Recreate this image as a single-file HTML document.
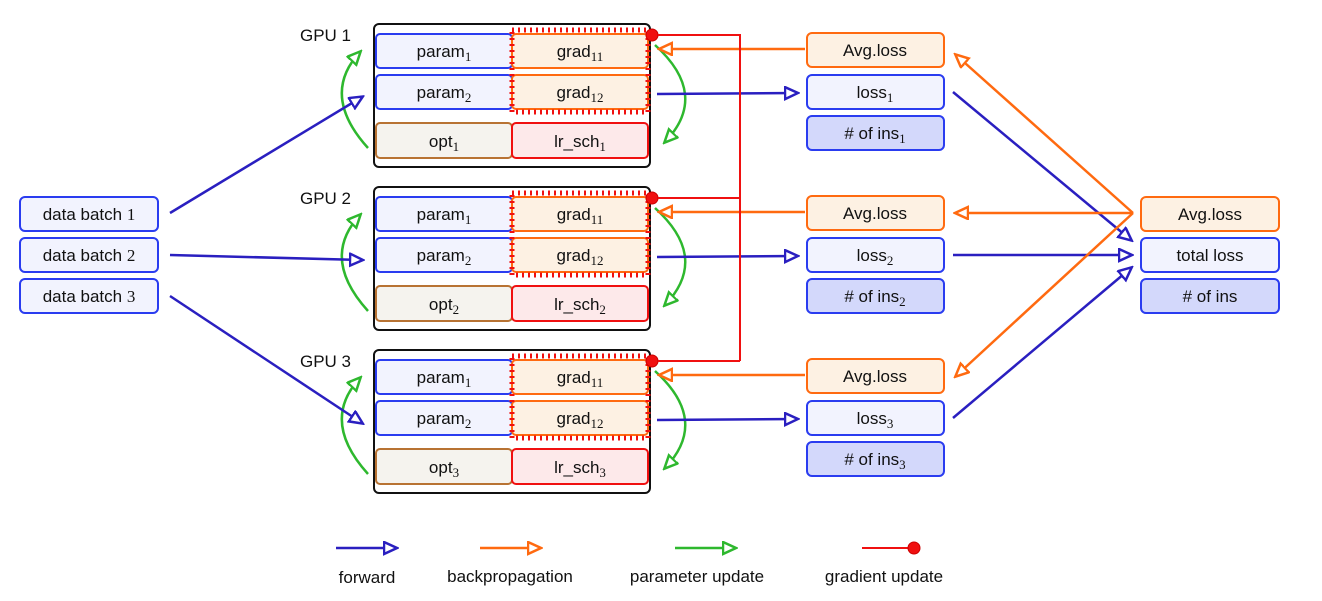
<!DOCTYPE html>
<html><head><meta charset="utf-8"><style>
html,body{margin:0;padding:0;background:#fff;}
svg text{font-family:"Liberation Sans",sans-serif;font-size:17px;fill:#111;}
.s{font-family:"Liberation Serif",serif;font-size:13px;}
</style></head><body>
<svg width="1322" height="596" viewBox="0 0 1322 596" xmlns="http://www.w3.org/2000/svg">
<defs>
<marker id="ab" markerWidth="16" markerHeight="16" refX="13" refY="7" orient="auto" markerUnits="userSpaceOnUse"><path d="M1,1 L14,7 L1,13 Z" fill="#fff" stroke="#2a1fc0" stroke-width="2.5"/></marker>
<marker id="ao" markerWidth="16" markerHeight="16" refX="13" refY="7" orient="auto" markerUnits="userSpaceOnUse"><path d="M1,1 L14,7 L1,13 Z" fill="#fff" stroke="#ff6a10" stroke-width="2.5"/></marker>
<marker id="ag" markerWidth="16" markerHeight="16" refX="13" refY="7" orient="auto" markerUnits="userSpaceOnUse"><path d="M1,1 L14,7 L1,13 Z" fill="#fff" stroke="#2eb82e" stroke-width="2.5"/></marker>
</defs>

<g>
<text x="300" y="41">GPU 1</text>
<rect x="374" y="24" width="276" height="143" rx="5" fill="#fff" stroke="#111" stroke-width="2"/>
<rect x="376" y="34" width="136" height="34" rx="4" fill="#f2f3fe" stroke="#2a3cf0" stroke-width="2"/>
<rect x="512" y="34" width="136" height="34" rx="4" fill="#fdf1e3" stroke="#ff6a10" stroke-width="2"/>
<rect x="376" y="75" width="136" height="34" rx="4" fill="#f2f3fe" stroke="#2a3cf0" stroke-width="2"/>
<rect x="512" y="75" width="136" height="34" rx="4" fill="#fdf1e3" stroke="#ff6a10" stroke-width="2"/>
<rect x="376" y="123" width="136" height="35" rx="4" fill="#f5f3ee" stroke="#b87333" stroke-width="2"/>
<rect x="512" y="123" width="136" height="35" rx="4" fill="#fde9ea" stroke="#f01010" stroke-width="2"/>
<rect x="512" y="30" width="136" height="82" fill="none" stroke="#f01010" stroke-width="5" stroke-dasharray="2 4"/>
<text x="444" y="57" text-anchor="middle">param<tspan class="s" dy="4">1</tspan></text>
<text x="580" y="57" text-anchor="middle">grad<tspan class="s" dy="4">11</tspan></text>
<text x="444" y="98" text-anchor="middle">param<tspan class="s" dy="4">2</tspan></text>
<text x="580" y="98" text-anchor="middle">grad<tspan class="s" dy="4">12</tspan></text>
<text x="444" y="147" text-anchor="middle">opt<tspan class="s" dy="4">1</tspan></text>
<text x="580" y="147" text-anchor="middle">lr_sch<tspan class="s" dy="4">1</tspan></text>
<path d="M368,148 Q320,95 360,52" fill="none" stroke="#2eb82e" stroke-width="2.5" marker-end="url(#ag)"/>
<path d="M655,45 Q710,95 665,142" fill="none" stroke="#2eb82e" stroke-width="2.5" marker-end="url(#ag)"/>
<circle cx="652" cy="35" r="6" fill="#f01010" stroke="#c00" stroke-width="1"/>
<line x1="805" y1="49" x2="660" y2="49" stroke="#ff6a10" stroke-width="2.5" marker-end="url(#ao)"/>
<line x1="657" y1="94" x2="797" y2="93" stroke="#2a1fc0" stroke-width="2.5" marker-end="url(#ab)"/>
<rect x="807" y="33" width="137" height="34" rx="5" fill="#fdf1e3" stroke="#ff6a10" stroke-width="2"/>
<rect x="807" y="75" width="137" height="34" rx="5" fill="#f2f3fe" stroke="#2a3cf0" stroke-width="2"/>
<rect x="807" y="116" width="137" height="34" rx="5" fill="#d3d8fb" stroke="#2a3cf0" stroke-width="2"/>
<text x="875" y="56" text-anchor="middle">Avg.loss</text>
<text x="875" y="98" text-anchor="middle">loss<tspan class="s" dy="4">1</tspan></text>
<text x="875" y="139" text-anchor="middle"># of ins<tspan class="s" dy="4">1</tspan></text>
</g>

<g transform="translate(0,163)">
<text x="300" y="41">GPU 2</text>
<rect x="374" y="24" width="276" height="143" rx="5" fill="#fff" stroke="#111" stroke-width="2"/>
<rect x="376" y="34" width="136" height="34" rx="4" fill="#f2f3fe" stroke="#2a3cf0" stroke-width="2"/>
<rect x="512" y="34" width="136" height="34" rx="4" fill="#fdf1e3" stroke="#ff6a10" stroke-width="2"/>
<rect x="376" y="75" width="136" height="34" rx="4" fill="#f2f3fe" stroke="#2a3cf0" stroke-width="2"/>
<rect x="512" y="75" width="136" height="34" rx="4" fill="#fdf1e3" stroke="#ff6a10" stroke-width="2"/>
<rect x="376" y="123" width="136" height="35" rx="4" fill="#f5f3ee" stroke="#b87333" stroke-width="2"/>
<rect x="512" y="123" width="136" height="35" rx="4" fill="#fde9ea" stroke="#f01010" stroke-width="2"/>
<rect x="512" y="30" width="136" height="82" fill="none" stroke="#f01010" stroke-width="5" stroke-dasharray="2 4"/>
<text x="444" y="57" text-anchor="middle">param<tspan class="s" dy="4">1</tspan></text>
<text x="580" y="57" text-anchor="middle">grad<tspan class="s" dy="4">11</tspan></text>
<text x="444" y="98" text-anchor="middle">param<tspan class="s" dy="4">2</tspan></text>
<text x="580" y="98" text-anchor="middle">grad<tspan class="s" dy="4">12</tspan></text>
<text x="444" y="147" text-anchor="middle">opt<tspan class="s" dy="4">2</tspan></text>
<text x="580" y="147" text-anchor="middle">lr_sch<tspan class="s" dy="4">2</tspan></text>
<path d="M368,148 Q320,95 360,52" fill="none" stroke="#2eb82e" stroke-width="2.5" marker-end="url(#ag)"/>
<path d="M655,45 Q710,95 665,142" fill="none" stroke="#2eb82e" stroke-width="2.5" marker-end="url(#ag)"/>
<circle cx="652" cy="35" r="6" fill="#f01010" stroke="#c00" stroke-width="1"/>
<line x1="805" y1="49" x2="660" y2="49" stroke="#ff6a10" stroke-width="2.5" marker-end="url(#ao)"/>
<line x1="657" y1="94" x2="797" y2="93" stroke="#2a1fc0" stroke-width="2.5" marker-end="url(#ab)"/>
<rect x="807" y="33" width="137" height="34" rx="5" fill="#fdf1e3" stroke="#ff6a10" stroke-width="2"/>
<rect x="807" y="75" width="137" height="34" rx="5" fill="#f2f3fe" stroke="#2a3cf0" stroke-width="2"/>
<rect x="807" y="116" width="137" height="34" rx="5" fill="#d3d8fb" stroke="#2a3cf0" stroke-width="2"/>
<text x="875" y="56" text-anchor="middle">Avg.loss</text>
<text x="875" y="98" text-anchor="middle">loss<tspan class="s" dy="4">2</tspan></text>
<text x="875" y="139" text-anchor="middle"># of ins<tspan class="s" dy="4">2</tspan></text>
</g>

<g transform="translate(0,326)">
<text x="300" y="41">GPU 3</text>
<rect x="374" y="24" width="276" height="143" rx="5" fill="#fff" stroke="#111" stroke-width="2"/>
<rect x="376" y="34" width="136" height="34" rx="4" fill="#f2f3fe" stroke="#2a3cf0" stroke-width="2"/>
<rect x="512" y="34" width="136" height="34" rx="4" fill="#fdf1e3" stroke="#ff6a10" stroke-width="2"/>
<rect x="376" y="75" width="136" height="34" rx="4" fill="#f2f3fe" stroke="#2a3cf0" stroke-width="2"/>
<rect x="512" y="75" width="136" height="34" rx="4" fill="#fdf1e3" stroke="#ff6a10" stroke-width="2"/>
<rect x="376" y="123" width="136" height="35" rx="4" fill="#f5f3ee" stroke="#b87333" stroke-width="2"/>
<rect x="512" y="123" width="136" height="35" rx="4" fill="#fde9ea" stroke="#f01010" stroke-width="2"/>
<rect x="512" y="30" width="136" height="82" fill="none" stroke="#f01010" stroke-width="5" stroke-dasharray="2 4"/>
<text x="444" y="57" text-anchor="middle">param<tspan class="s" dy="4">1</tspan></text>
<text x="580" y="57" text-anchor="middle">grad<tspan class="s" dy="4">11</tspan></text>
<text x="444" y="98" text-anchor="middle">param<tspan class="s" dy="4">2</tspan></text>
<text x="580" y="98" text-anchor="middle">grad<tspan class="s" dy="4">12</tspan></text>
<text x="444" y="147" text-anchor="middle">opt<tspan class="s" dy="4">3</tspan></text>
<text x="580" y="147" text-anchor="middle">lr_sch<tspan class="s" dy="4">3</tspan></text>
<path d="M368,148 Q320,95 360,52" fill="none" stroke="#2eb82e" stroke-width="2.5" marker-end="url(#ag)"/>
<path d="M655,45 Q710,95 665,142" fill="none" stroke="#2eb82e" stroke-width="2.5" marker-end="url(#ag)"/>
<circle cx="652" cy="35" r="6" fill="#f01010" stroke="#c00" stroke-width="1"/>
<line x1="805" y1="49" x2="660" y2="49" stroke="#ff6a10" stroke-width="2.5" marker-end="url(#ao)"/>
<line x1="657" y1="94" x2="797" y2="93" stroke="#2a1fc0" stroke-width="2.5" marker-end="url(#ab)"/>
<rect x="807" y="33" width="137" height="34" rx="5" fill="#fdf1e3" stroke="#ff6a10" stroke-width="2"/>
<rect x="807" y="75" width="137" height="34" rx="5" fill="#f2f3fe" stroke="#2a3cf0" stroke-width="2"/>
<rect x="807" y="116" width="137" height="34" rx="5" fill="#d3d8fb" stroke="#2a3cf0" stroke-width="2"/>
<text x="875" y="56" text-anchor="middle">Avg.loss</text>
<text x="875" y="98" text-anchor="middle">loss<tspan class="s" dy="4">3</tspan></text>
<text x="875" y="139" text-anchor="middle"># of ins<tspan class="s" dy="4">3</tspan></text>
</g>

<path d="M658,35 H740 V361 M658,198 H740 M658,361 H740" fill="none" stroke="#f01010" stroke-width="2"/>

<rect x="20" y="197" width="138" height="34" rx="5" fill="#f2f3fe" stroke="#2a3cf0" stroke-width="2"/>
<rect x="20" y="238" width="138" height="34" rx="5" fill="#f2f3fe" stroke="#2a3cf0" stroke-width="2"/>
<rect x="20" y="279" width="138" height="34" rx="5" fill="#f2f3fe" stroke="#2a3cf0" stroke-width="2"/>
<text x="89" y="220" text-anchor="middle">data batch <tspan font-family="Liberation Serif">1</tspan></text>
<text x="89" y="261" text-anchor="middle">data batch <tspan font-family="Liberation Serif">2</tspan></text>
<text x="89" y="302" text-anchor="middle">data batch <tspan font-family="Liberation Serif">3</tspan></text>
<line x1="170" y1="213" x2="362" y2="97" stroke="#2a1fc0" stroke-width="2.5" marker-end="url(#ab)"/>
<line x1="170" y1="255" x2="362" y2="260" stroke="#2a1fc0" stroke-width="2.5" marker-end="url(#ab)"/>
<line x1="170" y1="296" x2="362" y2="423" stroke="#2a1fc0" stroke-width="2.5" marker-end="url(#ab)"/>

<line x1="953" y1="92" x2="1131" y2="240" stroke="#2a1fc0" stroke-width="2.5" marker-end="url(#ab)"/>
<line x1="953" y1="255" x2="1131" y2="255" stroke="#2a1fc0" stroke-width="2.5" marker-end="url(#ab)"/>
<line x1="953" y1="418" x2="1131" y2="268" stroke="#2a1fc0" stroke-width="2.5" marker-end="url(#ab)"/>
<line x1="1133" y1="213" x2="956" y2="55" stroke="#ff6a10" stroke-width="2.5" marker-end="url(#ao)"/>
<line x1="1133" y1="213" x2="956" y2="213" stroke="#ff6a10" stroke-width="2.5" marker-end="url(#ao)"/>
<line x1="1133" y1="213" x2="956" y2="376" stroke="#ff6a10" stroke-width="2.5" marker-end="url(#ao)"/>
<rect x="1141" y="197" width="138" height="34" rx="5" fill="#fdf1e3" stroke="#ff6a10" stroke-width="2"/>
<rect x="1141" y="238" width="138" height="34" rx="5" fill="#f2f3fe" stroke="#2a3cf0" stroke-width="2"/>
<rect x="1141" y="279" width="138" height="34" rx="5" fill="#d3d8fb" stroke="#2a3cf0" stroke-width="2"/>
<text x="1210" y="220" text-anchor="middle">Avg.loss</text>
<text x="1210" y="261" text-anchor="middle">total loss</text>
<text x="1210" y="302" text-anchor="middle"># of ins</text>

<line x1="336" y1="548" x2="396" y2="548" stroke="#2a1fc0" stroke-width="2.5" marker-end="url(#ab)"/>
<line x1="480" y1="548" x2="540" y2="548" stroke="#ff6a10" stroke-width="2.5" marker-end="url(#ao)"/>
<line x1="675" y1="548" x2="735" y2="548" stroke="#2eb82e" stroke-width="2.5" marker-end="url(#ag)"/>
<line x1="862" y1="548" x2="910" y2="548" stroke="#f01010" stroke-width="2"/>
<circle cx="914" cy="548" r="6" fill="#f01010" stroke="#c00" stroke-width="1"/>
<text x="367" y="583" text-anchor="middle">forward</text>
<text x="510" y="582" text-anchor="middle">backpropagation</text>
<text x="697" y="582" text-anchor="middle">parameter update</text>
<text x="884" y="582" text-anchor="middle">gradient update</text>
</svg>
</body></html>
